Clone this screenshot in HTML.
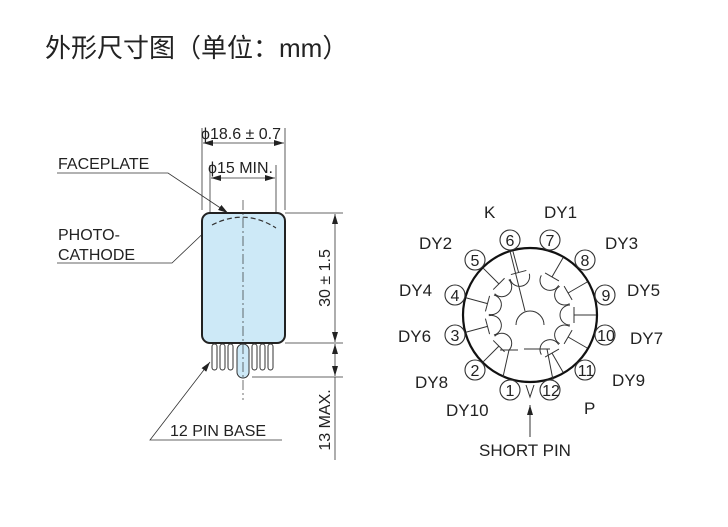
<!DOCTYPE html>
<html><head><meta charset="utf-8"><style>
body{margin:0;background:#fff;width:728px;height:522px;overflow:hidden}
svg text{font-family:"Liberation Sans",Arial,sans-serif;fill:#222}
</style></head><body>
<svg width="728" height="522" viewBox="0 0 728 522" xmlns="http://www.w3.org/2000/svg">
<defs><marker id="a" markerWidth="10" markerHeight="6" refX="10" refY="3" orient="auto-start-reverse" markerUnits="userSpaceOnUse"><path d="M0,0 L10,3 L0,6 z" fill="#222"/></marker></defs>
<text x="45" y="57" font-size="26" style="font-family:'Liberation Sans','Noto Sans CJK SC',sans-serif">外形尺寸图（单位：mm）</text>

<g stroke="#333" stroke-width="0.8" fill="none">
<line x1="202" y1="128" x2="202" y2="210"/><line x1="285" y1="128" x2="285" y2="210"/>
<line x1="210" y1="165" x2="210" y2="212"/><line x1="276" y1="165" x2="276" y2="212"/>
<line x1="203" y1="143" x2="284" y2="143" marker-start="url(#a)" marker-end="url(#a)"/>
<line x1="211" y1="178" x2="275" y2="178" marker-start="url(#a)" marker-end="url(#a)"/>
<line x1="285" y1="213" x2="343" y2="213"/><line x1="285" y1="343" x2="343" y2="343"/>
<line x1="252" y1="377" x2="343" y2="377"/>
<line x1="335" y1="214" x2="335" y2="342" marker-start="url(#a)" marker-end="url(#a)"/>
<line x1="335" y1="344" x2="335" y2="376" marker-start="url(#a)" marker-end="url(#a)"/>
<line x1="335" y1="377" x2="335" y2="460"/>
<polyline points="57,173 168,173 228,213" marker-end="url(#a)"/>
<polyline points="57,263 172,263 213,224" marker-end="url(#a)"/>
<polyline points="282,440 150,440 210,362" marker-end="url(#a)"/>
</g>
<rect x="202" y="213" width="83" height="130" rx="8" fill="#cde9f7" stroke="#222" stroke-width="2"/>
<path d="M212,225 Q245,208 276,228" stroke="#333" stroke-width="1.2" fill="none" stroke-dasharray="5,3"/>
<g stroke="#333" stroke-width="1" fill="#fff">
<rect x="212" y="344" width="5" height="26" rx="2.5"/><rect x="220" y="344" width="5" height="26" rx="2.5"/><rect x="228" y="344" width="5" height="26" rx="2.5"/>
<rect x="252" y="344" width="5" height="26" rx="2.5"/><rect x="260" y="344" width="5" height="26" rx="2.5"/><rect x="268" y="344" width="5" height="26" rx="2.5"/>
<rect x="237" y="344" width="12" height="34" rx="6" fill="#cde9f7"/>
</g>
<line x1="243" y1="200" x2="243" y2="400" stroke="#333" stroke-width="0.7" stroke-dasharray="10,3,2,3"/>
<text x="201" y="139" font-size="16">ϕ18.6 ± 0.7</text>
<text x="208" y="173" font-size="16">ϕ15 MIN.</text>
<text x="58" y="169" font-size="16">FACEPLATE</text>
<text x="58" y="240" font-size="16">PHOTO-</text>
<text x="58" y="260" font-size="16">CATHODE</text>
<text x="170" y="436" font-size="16">12 PIN BASE</text>
<text transform="translate(330,278) rotate(-90)" font-size="16" text-anchor="middle">30 ± 1.5</text>
<text transform="translate(330,420) rotate(-90)" font-size="16" text-anchor="middle">13 MAX.</text>

<g transform="translate(530,315)">
<circle r="67" fill="none" stroke="#111" stroke-width="2.2"/>
<g stroke="#333" stroke-width="1" fill="none">
<path d="M-14,10 A14,14 0 0 1 14,10"/>
<line x1="-20" y1="-64" x2="-5" y2="-4"/>
<path d="M-6,34 L20,34 L2,34"/><line x1="17" y1="34" x2="23" y2="65"/>
<path d="M-30,35 L-12,35"/><line x1="-21" y1="35" x2="-27" y2="62"/>
</g>
</g>
<g stroke="#333" stroke-width="1" fill="none">
<g transform="translate(530,315) rotate(-150)"><line x1="0" y1="66" x2="0" y2="44"/><line x1="-8" y1="44" x2="8" y2="44"/><path d="M-10,40 A10,10 0 0 1 10,40"/></g>
<g transform="translate(530,315) rotate(-120)"><line x1="0" y1="66" x2="0" y2="44"/><line x1="-8" y1="44" x2="8" y2="44"/><path d="M-10,40 A10,10 0 0 1 10,40"/></g>
<g transform="translate(530,315) rotate(-90)"><line x1="0" y1="66" x2="0" y2="44"/><line x1="-8" y1="44" x2="8" y2="44"/><path d="M-10,40 A10,10 0 0 1 10,40"/></g>
<g transform="translate(530,315) rotate(-60)"><line x1="0" y1="66" x2="0" y2="44"/><line x1="-8" y1="44" x2="8" y2="44"/><path d="M-10,40 A10,10 0 0 1 10,40"/></g>
<g transform="translate(530,315) rotate(-30)"><line x1="0" y1="66" x2="0" y2="44"/><line x1="-8" y1="44" x2="8" y2="44"/><path d="M-10,40 A10,10 0 0 1 10,40"/></g>
<g transform="translate(530,315) rotate(165)"><line x1="0" y1="66" x2="0" y2="44"/><line x1="-8" y1="44" x2="8" y2="44"/><path d="M-10,40 A10,10 0 0 1 10,40"/></g>
<g transform="translate(530,315) rotate(135)"><line x1="0" y1="66" x2="0" y2="44"/><line x1="-8" y1="44" x2="8" y2="44"/><path d="M-10,40 A10,10 0 0 1 10,40"/></g>
<g transform="translate(530,315) rotate(105)"><line x1="0" y1="66" x2="0" y2="44"/><line x1="-8" y1="44" x2="8" y2="44"/><path d="M-10,40 A10,10 0 0 1 10,40"/></g>
<g transform="translate(530,315) rotate(75)"><line x1="0" y1="66" x2="0" y2="44"/><line x1="-8" y1="44" x2="8" y2="44"/><path d="M-10,40 A10,10 0 0 1 10,40"/></g>
<g transform="translate(530,315) rotate(45)"><line x1="0" y1="66" x2="0" y2="44"/><line x1="-8" y1="44" x2="8" y2="44"/><path d="M-10,40 A10,10 0 0 1 10,40"/></g>
</g>
<g stroke="#333" stroke-width="1.1" fill="#fff">
<circle cx="510" cy="240" r="10"/><circle cx="550" cy="240" r="10"/><circle cx="475" cy="260" r="10"/><circle cx="585" cy="260" r="10"/>
<circle cx="455" cy="295" r="10"/><circle cx="605" cy="295" r="10"/><circle cx="455" cy="335" r="10"/><circle cx="605" cy="335" r="10"/>
<circle cx="475" cy="370" r="10"/><circle cx="585" cy="370" r="10"/><circle cx="510" cy="390" r="10"/><circle cx="550" cy="390" r="10"/>
</g>
<path d="M526,385 L530,397 L534,385" stroke="#333" fill="none"/>
<line x1="530" y1="437" x2="530" y2="405" stroke="#333" marker-end="url(#a)"/>
<g font-size="16" text-anchor="middle">
<text x="510" y="246">6</text><text x="550" y="246">7</text><text x="475" y="266">5</text><text x="585" y="266">8</text>
<text x="455" y="301">4</text><text x="606" y="301">9</text><text x="455" y="341">3</text><text x="606" y="341">10</text>
<text x="475" y="376">2</text><text x="586" y="376">11</text><text x="510" y="396">1</text><text x="551" y="396">12</text>
</g>
<g font-size="17">
<text x="484" y="218">K</text><text x="544" y="218">DY1</text>
<text x="419" y="249">DY2</text><text x="605" y="249">DY3</text>
<text x="399" y="296">DY4</text><text x="627" y="296">DY5</text>
<text x="398" y="342">DY6</text><text x="630" y="344">DY7</text>
<text x="415" y="388">DY8</text><text x="612" y="386">DY9</text>
<text x="446" y="416">DY10</text><text x="584" y="414">P</text>
<text x="479" y="456">SHORT PIN</text>
</g>
</svg>
</body></html>
